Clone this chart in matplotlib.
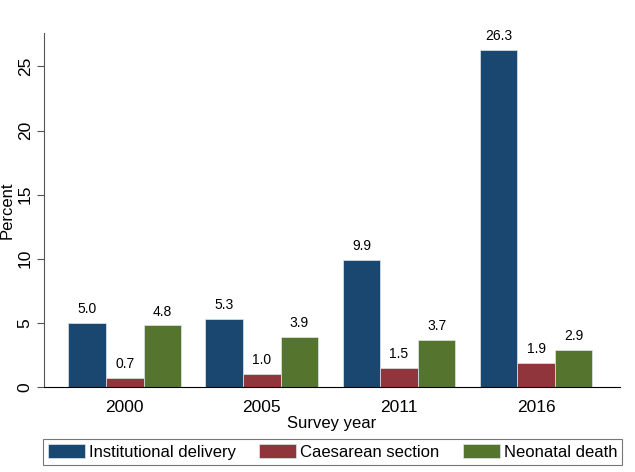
import matplotlib.pyplot as plt
import numpy as np

plt.rcParams['font.family'] = ['Liberation Sans', 'DejaVu Sans']

# survey data
years = ['2000', '2005', '2011', '2016']
institutional = [5.0, 5.3, 9.9, 26.3]
caesarean = [0.7, 1.0, 1.5, 1.9]
neonatal = [4.8, 3.9, 3.7, 2.9]

series = [
    ("Institutional delivery", institutional, '#1a476f'),
    ("Caesarean section", caesarean, '#90353b'),
    ("Neonatal death", neonatal, '#55752f'),
]

fig = plt.figure(figsize=(6.35, 4.72), dpi=100)
ax = fig.add_axes([0.069, 0.180, 0.907, 0.750])

x = np.arange(len(years))
w = 0.274
for i, (name, vals, col) in enumerate(series):
    pos = x + (i - 1) * w
    bars = ax.bar(pos, vals, width=w, color=col, edgecolor='#dfe6ec', linewidth=0.5, label=name)
    for b, v in zip(bars, vals):
        ax.annotate(f"{v:.1f}", (b.get_x() + b.get_width() / 2, v),
                    xytext=(0, 5), textcoords='offset points',
                    ha='center', va='bottom', fontsize=10)

ax.set_xlim(-0.59, 3.61)
ax.set_ylim(0, 27.6)
ax.set_xticks(x)
ax.set_xticklabels(years, fontsize=12.5)
ax.tick_params(axis='x', length=0, pad=9)
ax.set_yticks([0, 5, 10, 15, 20, 25])
ax.set_yticklabels(['0', '5', '10', '15', '20', '25'], rotation=90, va='center', fontsize=12.5)
ax.tick_params(axis='y', length=5, color='#555555', pad=3)
ax.spines['top'].set_visible(False)
ax.spines['right'].set_visible(False)
ax.spines['left'].set_color('#555555')
ax.spines['bottom'].set_color('black')
ax.set_xlabel('Survey year', fontsize=12, labelpad=1)
ax.set_ylabel('Percent', fontsize=12)
ax.yaxis.set_label_coords(-0.051, 0.5)

leg = fig.legend(loc='lower center', bbox_to_anchor=(0.524, 0.015), ncol=3, fontsize=12,
                 frameon=True, fancybox=False, edgecolor='#555555',
                 handlelength=2.2, handleheight=0.9, columnspacing=1.4, handletextpad=0.25,
                 borderpad=0.3, borderaxespad=0)
leg.get_frame().set_linewidth(0.8)

fig.savefig('out.png', dpi=100)
